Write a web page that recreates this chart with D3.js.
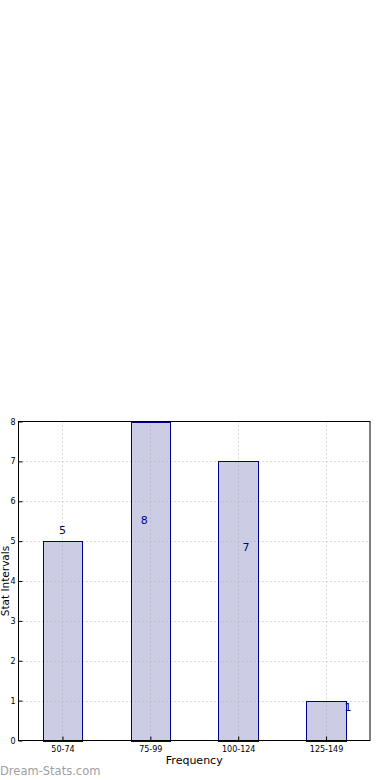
<!DOCTYPE html>
<html><head><meta charset="utf-8">
<script src="https://cdn.jsdelivr.net/npm/d3@7"></script>
<style>body{margin:0;background:#fff}svg{display:block}</style>
</head><body>
<script>
const categories = ["50-74", "75-99", "100-124", "125-149"];
const values = [5, 8, 7, 1];
const yTicks = [0, 1, 2, 3, 4, 5, 6, 7, 8];
// value-label anchors in data units (category offset, value)
const labelDx = [0, -0.07, 0.09, 0.25];
const labelAt = [5.17, 5.42, 4.75, 0.75];

const W = 390, H = 780;
const m = {left: 18.5, right: 370, top: 421.5, bottom: 740.5};
const svg = d3.select("body").append("svg").attr("width", W).attr("height", H);

const x = d3.scaleLinear().domain([-0.5, categories.length - 0.5]).range([m.left, m.right]);
const y = d3.scaleLinear().domain([0, 8]).range([m.bottom, m.top]);
const barW = 0.45;

function bars(g) {
  return g.selectAll("rect").data(values).join("rect")
    .attr("x", (d, i) => Math.round(x(i - barW / 2)) + 0.5)
    .attr("width", (d, i) => Math.round(x(i + barW / 2)) - Math.round(x(i - barW / 2)))
    .attr("y", d => Math.round(y(d)) + 0.5)
    .attr("height", d => Math.round(y(0)) - Math.round(y(d)));
}
bars(svg.append("g")).attr("fill", "#ccccE4").attr("stroke", "none");

// grid drawn over bar fills
const grid = svg.append("g").attr("stroke", "#b4b4b4").attr("stroke-width", 1).attr("stroke-dasharray", "1,3");
grid.selectAll("line.v").data(categories).join("line").attr("class", "v")
  .attr("x1", (d, i) => Math.round(x(i)) + 0.5).attr("x2", (d, i) => Math.round(x(i)) + 0.5)
  .attr("y1", m.top).attr("y2", m.bottom);
grid.selectAll("line.h").data(yTicks.slice(1, -1)).join("line").attr("class", "h")
  .attr("x1", m.left).attr("x2", m.right).attr("y1", d => Math.round(y(d)) + 0.5).attr("y2", d => Math.round(y(d)) + 0.5);

bars(svg.append("g")).attr("fill", "none").attr("stroke", "#00008f").attr("stroke-width", 1);

// frame
svg.append("rect").attr("x", m.left).attr("y", m.top).attr("width", m.right - m.left).attr("height", m.bottom - m.top)
  .attr("fill", "none").attr("stroke", "#000").attr("stroke-width", 1);

// y axis ticks
const yAxis = d3.axisLeft(y).tickValues(yTicks).tickSize(-4).tickPadding(3).tickFormat(d3.format("d"));
const ya = svg.append("g").attr("transform", `translate(${m.left},0)`).call(yAxis);
ya.select(".domain").remove();
ya.selectAll("text").attr("font-family", "DejaVu Sans").attr("font-size", 8).attr("fill", "#000");
ya.selectAll("line").attr("stroke", "#000");

// x axis
const xAxis = d3.axisBottom(x).tickValues(d3.range(categories.length)).tickFormat(i => categories[i]).tickSize(-4).tickPadding(6);
const xa = svg.append("g").attr("transform", `translate(0,${m.bottom})`).call(xAxis);
xa.select(".domain").remove();
xa.selectAll("text").attr("font-family", "DejaVu Sans").attr("font-size", 8).attr("fill", "#000");
xa.selectAll("line").attr("stroke", "#000");

// value labels
svg.append("g").selectAll("text").data(values).join("text")
  .attr("x", (d, i) => x(i + labelDx[i])).attr("y", (d, i) => y(labelAt[i]))
  .attr("text-anchor", "middle").attr("font-family", "DejaVu Sans").attr("font-size", 11)
  .attr("fill", "#00008b").text(d => d);

// axis titles
svg.append("text").attr("x", (m.left + m.right) / 2).attr("y", 764).attr("text-anchor", "middle")
  .attr("font-family", "DejaVu Sans").attr("font-size", 11).text("Frequency");
svg.append("text").attr("transform", `translate(9,${(m.top + m.bottom) / 2}) rotate(-90)`).attr("text-anchor", "middle")
  .attr("font-family", "DejaVu Sans").attr("font-size", 10.5).text("Stat Intervals");

// watermark
svg.append("text").attr("x", 0).attr("y", 775).attr("font-family", "DejaVu Sans")
  .attr("font-size", 11.5).attr("fill", "#a0a0a0").text("Dream-Stats.com");
</script>
</body></html>
